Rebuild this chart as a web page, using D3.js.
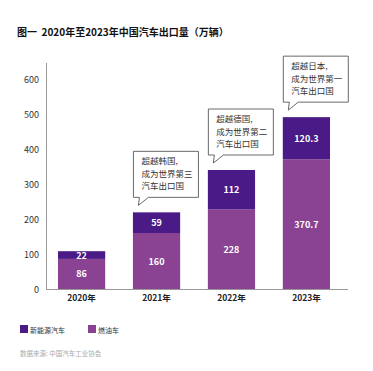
<!DOCTYPE html>
<html>
<head>
<meta charset="utf-8">
<script src="https://cdn.jsdelivr.net/npm/d3@7"></script>
<style>
  body { margin: 0; background: #fff; }
  text { font-family: "Noto Sans CJK SC", "Noto Sans", sans-serif; }
</style>
</head>
<body>
<div id="chart"></div>
<script>
var years = ["2020年", "2021年", "2022年", "2023年"];
var newEnergy = [22, 59, 112, 120.3];
var fuel = [86, 160, 228, 370.7];
var yTicks = [0, 100, 200, 300, 400, 500, 600];
var callouts = [null, ["超越韩国,", "成为世界第三", "汽车出口国"],
                ["超越德国,", "成为世界第二", "汽车出口国"],
                ["超越日本,", "成为世界第一", "汽车出口国"]];
var seriesNames = ["新能源汽车", "燃油车"];
var colors = ["#4a1a86", "#8a4393"];

var svg = d3.select("#chart").append("svg")
    .attr("width", 373)
    .attr("height", 371);

// title
svg.append("text")
    .attr("x", 17).attr("y", 36)
    .attr("font-size", 10).attr("font-weight", "bold")
    .attr("fill", "#111")
    .attr("xml:space", "preserve")
    .text("图一  2020年至2023年中国汽车出口量（万辆）");

var y = d3.scaleLinear().domain([0, 600]).range([289, 79]);
var x = d3.scaleBand().domain(years).range([43, 345]).paddingInner(0.37).paddingOuter(0.2);

// axes lines
svg.append("line").attr("x1", 46.5).attr("x2", 46.5).attr("y1", 63).attr("y2", 289)
    .attr("stroke", "#999").attr("stroke-width", 1);
svg.append("line").attr("x1", 46).attr("x2", 348).attr("y1", 289.5).attr("y2", 289.5)
    .attr("stroke", "#999").attr("stroke-width", 1);

svg.selectAll(".ytick").data(yTicks).enter().append("text")
    .attr("class", "ytick")
    .attr("x", 39).attr("y", function (d) { return y(d) + 3.5; })
    .attr("text-anchor", "end").attr("font-size", 9).attr("fill", "#333")
    .text(function (d) { return d; });

svg.selectAll(".xlab").data(years).enter().append("text")
    .attr("class", "xlab")
    .attr("x", function (d) { return x(d) + x.bandwidth() / 2; })
    .attr("y", 301)
    .attr("text-anchor", "middle").attr("font-size", 8.5).attr("font-weight", "bold").attr("fill", "#222")
    .text(function (d) { return d; });

// bars
var groups = svg.selectAll(".bar").data(years).enter().append("g").attr("class", "bar");
groups.append("rect")
    .attr("x", function (d) { return x(d); })
    .attr("width", x.bandwidth())
    .attr("y", function (d, i) { return y(fuel[i]); })
    .attr("height", function (d, i) { return y(0) - y(fuel[i]); })
    .attr("fill", colors[1]);
groups.append("rect")
    .attr("x", function (d) { return x(d); })
    .attr("width", x.bandwidth())
    .attr("y", function (d, i) { return y(fuel[i] + newEnergy[i]); })
    .attr("height", function (d, i) { return y(fuel[i]) - y(fuel[i] + newEnergy[i]); })
    .attr("fill", colors[0]);
groups.append("text")
    .attr("x", function (d) { return x(d) + x.bandwidth() / 2; })
    .attr("y", function (d, i) { return (y(0) + y(fuel[i])) / 2 + 3.5; })
    .attr("text-anchor", "middle").attr("font-size", 9).attr("font-weight", "bold").attr("fill", "#fff")
    .text(function (d, i) { return fuel[i]; });
groups.append("text")
    .attr("x", function (d) { return x(d) + x.bandwidth() / 2; })
    .attr("y", function (d, i) { return (y(fuel[i]) + y(fuel[i] + newEnergy[i])) / 2 + 3.5; })
    .attr("text-anchor", "middle").attr("font-size", 9).attr("font-weight", "bold").attr("fill", "#fff")
    .text(function (d, i) { return newEnergy[i]; });

// callouts
years.forEach(function (yr, i) {
    if (!callouts[i]) return;
    var left = x(yr) + 0.5;
    var top = y(fuel[i] + newEnergy[i]) - 7;
    var w = 65, h = 46;
    var bTop = top - h - 8;
    var path = "M" + left + "," + bTop +
        " H" + (left + w) + " V" + (bTop + h) +
        " H" + (left + 15) + " L" + (left + 5) + "," + top +
        " L" + (left + 6) + "," + (bTop + h) +
        " H" + left + " Z";
    svg.append("path").attr("d", path)
        .attr("fill", "#fff").attr("stroke", "#444").attr("stroke-width", 0.8);
    callouts[i].forEach(function (line, j) {
        svg.append("text")
            .attr("x", left + 8).attr("y", bTop + 13 + j * 12.5)
            .attr("font-size", 8.5).attr("fill", "#333")
            .text(line);
    });
});

// legend
seriesNames.forEach(function (name, i) {
    var lx = 20 + i * 68;
    svg.append("rect").attr("x", lx).attr("y", 325).attr("width", 8).attr("height", 8).attr("fill", colors[i]);
    svg.append("text").attr("x", lx + 10).attr("y", 332.5)
        .attr("font-size", 7).attr("fill", "#333").text(name);
});

svg.append("text").attr("x", 20).attr("y", 356)
    .attr("font-size", 6.5).attr("fill", "#aaa")
    .text("数据来源: 中国汽车工业协会");
</script>
</body>
</html>
